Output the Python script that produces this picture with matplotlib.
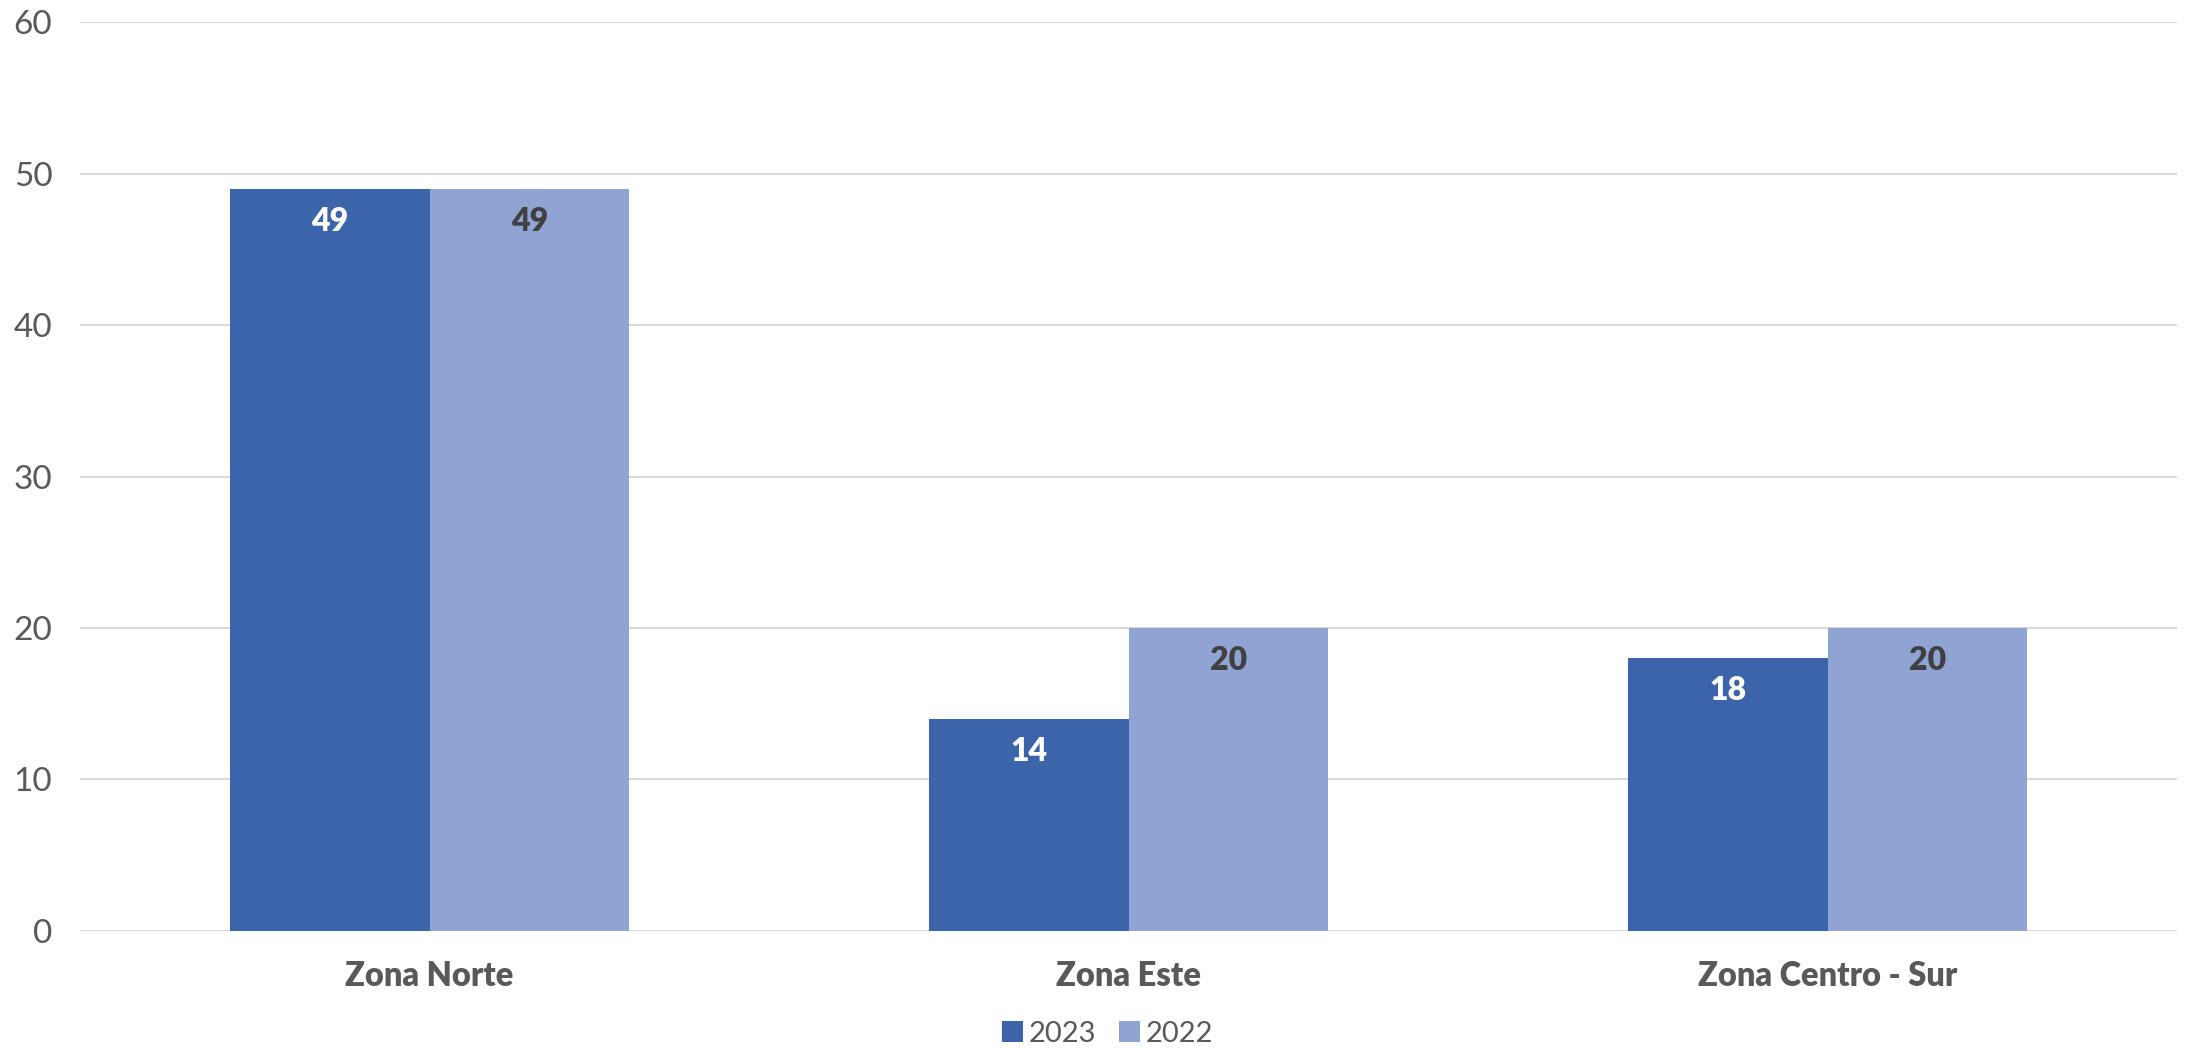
import numpy as np
from matplotlib import pyplot as plt

zonas = ['Zona Norte', 'Zona Este', 'Zona Centro - Sur']
v2023 = [49, 14, 18]
v2022 = [49, 20, 20]
series = ['2023', '2022']

plt.rcParams['font.family'] = ['Lato', 'DejaVu Sans']

c_dark = '#3C64AA'
c_light = '#90A4D4'
gris = '#595959'

fig = plt.figure(figsize=(21.88, 10.49), dpi=100)
ax = fig.add_axes([0.0366, 0.1125, 0.9584, 0.8665])

x = np.arange(len(zonas))
w = 1 / 3.5
b1 = ax.bar(x - w / 2, v2023, w, color=c_dark, label=series[0], zorder=3)
b2 = ax.bar(x + w / 2, v2022, w, color=c_light, label=series[1], zorder=3)

# etiquetas de datos dentro del extremo
for rect, v in zip(b1, v2023):
    ax.annotate(str(v), (rect.get_x() + rect.get_width() / 2, v),
                xytext=(0, -23.5), textcoords='offset points', ha='center', va='center',
                fontsize=23, fontweight='heavy', color='white', zorder=4)
for rect, v in zip(b2, v2022):
    ax.annotate(str(v), (rect.get_x() + rect.get_width() / 2, v),
                xytext=(0, -23.5), textcoords='offset points', ha='center', va='center',
                fontsize=23, fontweight='heavy', color='#404040', zorder=4)

ax.set_xlim(-0.5, len(zonas) - 0.5)
ax.set_ylim(0, 60)
ax.set_yticks(range(0, 61, 10))
ax.set_xticks(x)
ax.set_xticklabels(zonas, fontsize=23.5, fontweight='heavy', color=gris)
ax.tick_params(axis='x', length=0, pad=21)
ax.tick_params(axis='y', length=0, pad=20, labelsize=24, labelcolor=gris)

ax.grid(axis='y', color='#D9D9D9', linewidth=1.5, zorder=0)
for s in ax.spines.values():
    s.set_visible(False)

leg = ax.legend(loc='center', bbox_to_anchor=(0.49, -0.113), ncol=2, frameon=False,
                fontsize=21, handlelength=0.7, handleheight=0.7, handletextpad=0.2,
                columnspacing=0.8)
for t in leg.get_texts():
    t.set_color(gris)

fig.savefig('out.png', dpi=100)
